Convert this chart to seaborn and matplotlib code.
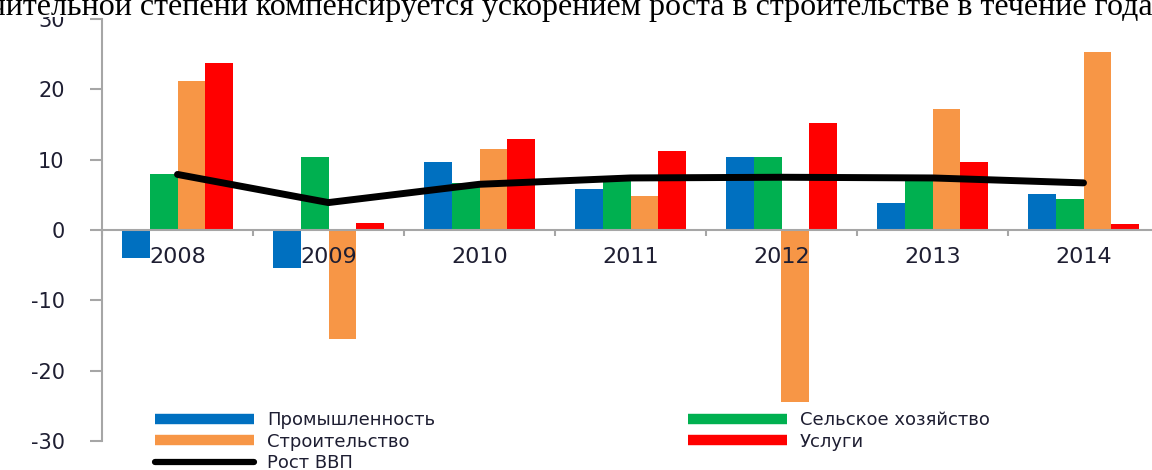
import numpy as np
import pandas as pd
import matplotlib
matplotlib.use("Agg")
import matplotlib.pyplot as plt
import seaborn as sns
from matplotlib.lines import Line2D
from matplotlib.patches import Rectangle

# ---- data ----
years = ["2008", "2009", "2010", "2011", "2012", "2013", "2014"]
industry = [-4.0, -5.4, 9.7, 5.8, 10.4, 3.9, 5.1]
agriculture = [7.9, 10.4, 6.7, 7.5, 10.4, 7.3, 4.4]
construction = [21.2, -15.5, 11.5, 4.9, -24.5, 17.2, 25.3]
services = [23.8, 1.0, 13.0, 11.3, 15.2, 9.7, 0.9]
gdp = [7.9, 3.9, 6.5, 7.4, 7.5, 7.4, 6.7]
series_names = ["Промышленность", "Сельское хозяйство", "Строительство", "Услуги"]
gdp_name = "Рост ВВП"
yticks = [-30, -20, -10, 0, 10, 20, 30]
title_text = "значительной степени компенсируется ускорением роста в строительстве в течение года"

colors = ["#0070C0", "#00B050", "#F79646", "#FF0000"]
axis_gray = "#A6A6A6"
text_dark = "#1E1E32"

df = pd.DataFrame({
    "year": years * 4,
    "sector": np.repeat(series_names, len(years)),
    "value": industry + agriculture + construction + services,
})

sns.set_theme(style="white")
plt.rcParams["font.family"] = ["DejaVu Sans"]

W, H = 1152, 470
fig = plt.figure(figsize=(W / 100, H / 100), dpi=100)
ax = fig.add_axes([102 / W, 29 / H, 1057 / W, 422 / H])

sns.barplot(data=df, x="year", y="value", hue="sector", order=years,
            hue_order=series_names, palette=colors, saturation=1,
            width=0.73, gap=0, dodge=True, errorbar=None, linewidth=0,
            legend=False, ax=ax)
sns.lineplot(x=list(range(len(years))), y=gdp, color="black", linewidth=5,
             solid_capstyle="round", solid_joinstyle="round", zorder=4, ax=ax)

ax.set_xlim(-0.5, len(years) - 0.5)
ax.set_ylim(-30, 30)
ax.set_xlabel("")
ax.set_ylabel("")
for s in ["top", "right"]:
    ax.spines[s].set_visible(False)
ax.spines["bottom"].set_position(("data", 0))
for s in ["left", "bottom"]:
    ax.spines[s].set_color(axis_gray)
    ax.spines[s].set_linewidth(1.5)

ax.set_xticks(np.arange(-0.5, len(years), 1.0))
ax.set_xticklabels([])
ax.set_xticks(range(len(years)), minor=True)
ax.set_xticklabels(years, minor=True)
ax.tick_params(axis="x", which="major", bottom=True, direction="out",
               length=4.5, width=1.5, color=axis_gray)
ax.tick_params(axis="x", which="minor", bottom=True, labelbottom=True,
               length=0, pad=12.5, labelsize=16, labelcolor=text_dark)
ax.xaxis.set_zorder(3)
ax.set_yticks(yticks)
ax.set_yticklabels([str(v) for v in yticks])
ax.tick_params(axis="y", which="major", left=True, direction="out",
               length=9, width=1.5, color=axis_gray, pad=18,
               labelsize=15, labelcolor=text_dark)

handles = [Line2D([], [], color=c, linewidth=7.5, solid_capstyle="butt") for c in colors]
handles.append(Line2D([], [], color="black", linewidth=4.5, solid_capstyle="round"))
labels = series_names + [gdp_name]
order = [0, 2, 4, 1, 3]
fig.legend([handles[i] for i in order], [labels[i] for i in order],
           loc="upper left", bbox_to_anchor=(155 / W, 1 - 411 / H),
           bbox_transform=fig.transFigure, ncol=2, frameon=False,
           fontsize=13, handlelength=5.5, handletextpad=0.7,
           columnspacing=14, labelspacing=0.2, borderpad=0,
           borderaxespad=0, labelcolor=text_dark)

fig.add_artist(Rectangle((0, 1 - 17 / H), 1, 17 / H, transform=fig.transFigure,
                         facecolor="white", edgecolor="none", zorder=5))
fig.text(1153 / W, 1 - 15 / H, title_text, ha="right", va="baseline",
         fontsize=23, family=["Liberation Serif"], color="black", zorder=6)

fig.savefig("out.png", dpi=100)
